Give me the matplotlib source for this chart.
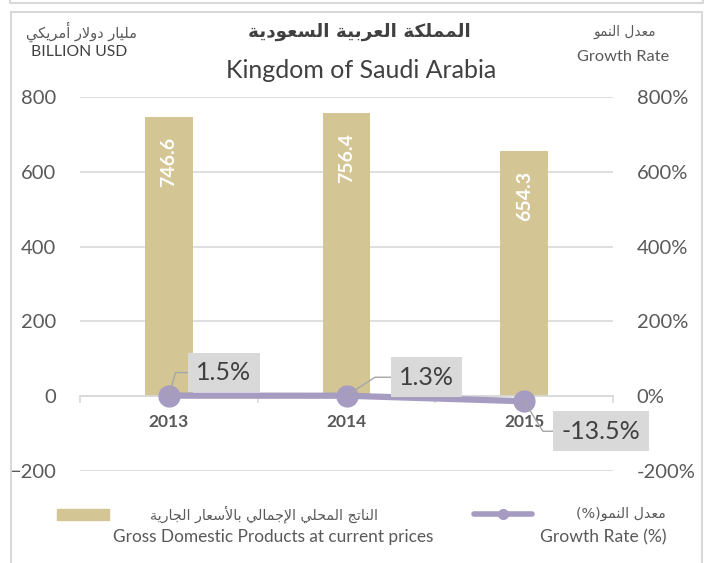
import matplotlib.pyplot as plt
from matplotlib.patches import Rectangle
from matplotlib.lines import Line2D
from matplotlib.ticker import FuncFormatter

# data
years = ['2013', '2014', '2015']
gdp = [746.6, 756.4, 654.3]          # billion USD
growth = [1.5, 1.3, -13.5]           # %
left_ticks = [-200, 0, 200, 400, 600, 800]
right_ticks = [-200, 0, 200, 400, 600, 800]

title_ar = 'المملكة العربية السعودية'
title_en = 'Kingdom of Saudi Arabia'
unit_ar = 'مليار دولار أمريكي'
unit_en = 'BILLION USD'
rate_ar = 'معدل النمو'
rate_en = 'Growth Rate'
leg_bar_ar = 'الناتج المحلي الإجمالي بالأسعار الجارية'
leg_bar_en = 'Gross Domestic Products at current prices'
leg_line_ar = 'معدل النمو(%)'
leg_line_en = 'Growth Rate (%)'

BAR_C = '#D4C594'
LINE_C = '#A69BC1'
GRID_C = '#D9D9D9'
TXT = '#595959'
DARK = '#404040'

# --- minimal arabic shaping (matplotlib has no bidi / joining support) ---
AR_FORMS = {
    'ا': ('\uFE8D', '\uFE8E', None, None),
    'أ': ('\uFE83', '\uFE84', None, None),
    'إ': ('\uFE87', '\uFE88', None, None),
    'ب': ('\uFE8F', '\uFE90', '\uFE91', '\uFE92'),
    'ة': ('\uFE93', '\uFE94', None, None),
    'ت': ('\uFE95', '\uFE96', '\uFE97', '\uFE98'),
    'ج': ('\uFE9D', '\uFE9E', '\uFE9F', '\uFEA0'),
    'ح': ('\uFEA1', '\uFEA2', '\uFEA3', '\uFEA4'),
    'د': ('\uFEA9', '\uFEAA', None, None),
    'ر': ('\uFEAD', '\uFEAE', None, None),
    'س': ('\uFEB1', '\uFEB2', '\uFEB3', '\uFEB4'),
    'ع': ('\uFEC9', '\uFECA', '\uFECB', '\uFECC'),
    'ك': ('\uFED9', '\uFEDA', '\uFEDB', '\uFEDC'),
    'ل': ('\uFEDD', '\uFEDE', '\uFEDF', '\uFEE0'),
    'م': ('\uFEE1', '\uFEE2', '\uFEE3', '\uFEE4'),
    'ن': ('\uFEE5', '\uFEE6', '\uFEE7', '\uFEE8'),
    'و': ('\uFEED', '\uFEEE', None, None),
    'ي': ('\uFEF1', '\uFEF2', '\uFEF3', '\uFEF4'),
}
LAM_ALEF = {'ا': ('\uFEFB', '\uFEFC'), 'أ': ('\uFEF7', '\uFEF8'), 'إ': ('\uFEF9', '\uFEFA')}


def joins_next(u):
    return u in AR_FORMS and AR_FORMS[u][2] is not None


def shape_ar(text):
    units = []
    i = 0
    while i < len(text):
        c = text[i]
        if c == 'ل' and i + 1 < len(text) and text[i + 1] in LAM_ALEF:
            units.append(('LA', text[i + 1]))
            i += 2
        else:
            units.append((c, None))
            i += 1
    out = []
    for k, (c, extra) in enumerate(units):
        prev = units[k - 1][0] if k > 0 else None
        nxt = units[k + 1][0] if k + 1 < len(units) else None
        a = joins_next(prev)
        if c == 'LA':
            iso, fin = LAM_ALEF[extra]
            out.append(fin if a else iso)
            continue
        if c not in AR_FORMS:
            out.append(c)
            continue
        iso, fin, ini, med = AR_FORMS[c]
        b = ini is not None and (nxt in AR_FORMS or nxt == 'LA')
        out.append(med if (a and b) else fin if a else ini if b else iso)
    vis = ''.join(reversed(out))
    return vis.translate(str.maketrans('()', ')('))


plt.rcParams['font.family'] = ['Lato', 'DejaVu Sans']
AR = ['DejaVu Sans']

W, H = 713, 563
fig = plt.figure(figsize=(W / 100, H / 100), dpi=100)


def fx(px):
    return px / W


def fy(py):
    return 1 - py / H


# frames
fig.add_artist(Rectangle((fx(11), -0.05), fx(691), fy(12) + 0.05, fill=False,
                         ec=GRID_C, lw=1.5, transform=fig.transFigure))
fig.add_artist(Line2D([fx(10), fx(10), fx(703), fx(703)], [1.01, fy(3), fy(3), 1.01],
                      color=GRID_C, lw=1.5, transform=fig.transFigure))

ax = fig.add_axes([fx(80), fy(471), fx(533), (471 - 97) / H])
x = list(range(len(years)))
ax.bar(x, gdp, width=0.27, color=BAR_C, zorder=2)
ax.set_xlim(-0.5, 2.5)
ax.set_ylim(-200, 800)
ax.set_yticks(left_ticks)
ax.grid(axis='y', color=GRID_C, lw=1.2, zorder=0)
ax.set_axisbelow(True)
for s in ['top', 'left', 'right']:
    ax.spines[s].set_visible(False)
ax.spines['bottom'].set_position(('data', 0))
ax.spines['bottom'].set_color(GRID_C)
ax.spines['bottom'].set_linewidth(1.2)
ax.set_xticks(x)
ax.set_xticklabels(years, fontweight='bold', fontsize=12.5, color=TXT)
ax.set_xticks([-0.5, 0.5, 1.5, 2.5], minor=True)
ax.tick_params(axis='x', which='major', length=0, pad=13)
ax.tick_params(axis='x', which='minor', length=5, width=1.2, color=GRID_C, direction='out')
ax.tick_params(axis='y', length=0, pad=17, labelsize=14.5, labelcolor=TXT)

for i, v in enumerate(gdp):
    ax.annotate(f'{v}', xy=(i, v), xytext=(0, -14), textcoords='offset points',
                rotation=90, ha='center', va='top', color='white',
                fontweight='bold', fontsize=14)

ax2 = ax.twinx()
ax2.set_ylim(-200, 800)
ax2.set_yticks(right_ticks)
ax2.yaxis.set_major_formatter(FuncFormatter(lambda v, p: f'{v:.0f}%'))
for s in ax2.spines.values():
    s.set_visible(False)
ax2.tick_params(axis='y', length=0, pad=17, labelsize=14.5, labelcolor=TXT)
ax2.plot(x, growth, color=LINE_C, lw=4.5, marker='o', ms=15, zorder=3)

offsets = [(39.6, 16.6), (57.6, 13.3), (55.4, -21.6)]
leader_angles = [74, 33, -58]
for i, g in enumerate(growth):
    ax2.annotate(f'{g}%', xy=(i, g), xytext=offsets[i], textcoords='offset points',
                 ha='center', va='center', fontsize=18, color=DARK,
                 bbox=dict(boxstyle='square,pad=0.33', fc=GRID_C, ec='none'),
                 arrowprops=dict(arrowstyle='-', color='#A6A6A6', lw=1,
                                 shrinkA=0, shrinkB=0,
                                 connectionstyle=f'angle,angleA=0,angleB={leader_angles[i]},rad=0'),
                 zorder=4)

# titles
fig.text(fx(359), fy(32), shape_ar(title_ar), family=AR, fontweight='bold',
         fontsize=13.2, color=DARK, ha='center', va='center')
fig.text(fx(361), fy(70), title_en, fontsize=18, color=DARK, ha='center', va='center')
fig.text(fx(81), fy(32), shape_ar(unit_ar), family=AR, fontsize=10.5, color=TXT,
         ha='center', va='center')
fig.text(fx(79), fy(52), unit_en, fontsize=11.3, color=DARK, ha='center', va='center')
fig.text(fx(625), fy(32), shape_ar(rate_ar), family=AR, fontsize=9.8, color=TXT,
         ha='center', va='center')
fig.text(fx(623), fy(57), rate_en, fontsize=11.8, color=TXT, ha='center', va='center')

# legend
fig.add_artist(Rectangle((fx(57), fy(520)), fx(52), 11 / H, color=BAR_C,
                         transform=fig.transFigure))
fig.add_artist(Line2D([fx(474), fx(532)], [fy(514), fy(514)], color=LINE_C, lw=4,
                      solid_capstyle='round', transform=fig.transFigure))
fig.add_artist(Line2D([fx(503)], [fy(514)], color=LINE_C, marker='o', ms=7,
                      transform=fig.transFigure))
fig.text(fx(264), fy(514), shape_ar(leg_bar_ar), family=AR, fontsize=10.3, color=TXT,
         ha='center', va='center')
fig.text(fx(273), fy(537), leg_bar_en, fontsize=12.4, color=TXT, ha='center', va='center')
fig.text(fx(666), fy(514), shape_ar(leg_line_ar), family=AR, fontsize=10.3, color=TXT,
         ha='right', va='center')
fig.text(fx(666), fy(537), leg_line_en, fontsize=12.6, color=TXT, ha='right', va='center')

fig.savefig('out.png', dpi=100)
